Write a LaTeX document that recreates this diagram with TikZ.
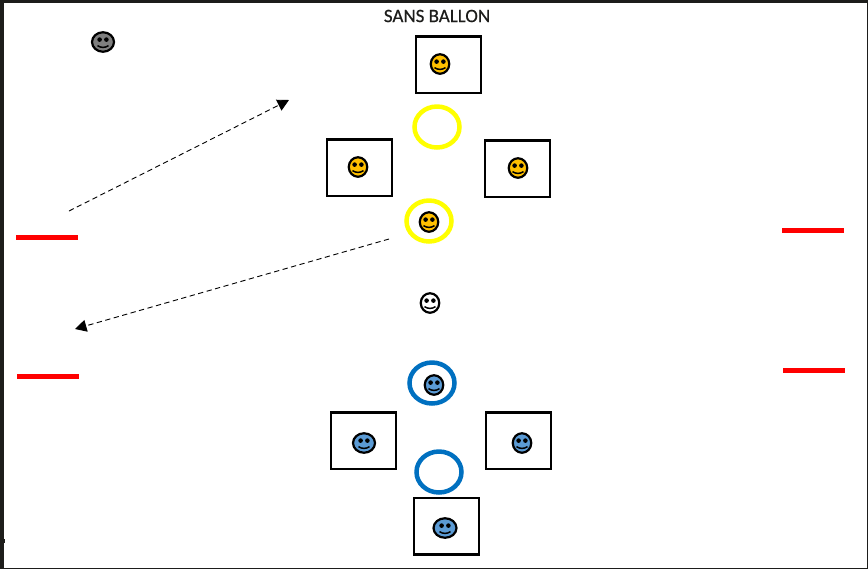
\documentclass[tikz,border=0pt]{standalone}
\usepackage{fontspec}
\setmainfont{Carlito}
\usepackage{xcolor}
\definecolor{hgold}{RGB}{255,192,0}
\definecolor{hblue}{RGB}{91,155,213}
\definecolor{hring}{RGB}{0,112,192}
\definecolor{hyellow}{RGB}{255,255,0}
\definecolor{hgrey}{RGB}{127,127,127}
\definecolor{hframe}{RGB}{29,29,27}
\usetikzlibrary{calc,arrows.meta,shapes.geometric}
\tikzset{
  playerbox/.style={draw,line width=0.05cm,rectangle,minimum width=1.3cm,minimum height=1.13cm,inner sep=0},
  ring/.style={draw=#1,line width=0.09cm,ellipse,minimum width=0.9cm,minimum height=0.82cm,inner sep=0},
  face/.style={draw,line width=0.044cm,ellipse,minimum height=0.39cm,inner sep=0},
  goal/.style={red,line width=0.1cm},
  run/.style={densely dashed,line width=0.018cm,-{Triangle[length=0.23cm,width=0.24cm]}},
}
\newcommand{\smiley}[4][0.37]{
\node[face,fill=#3,minimum width=#1 cm] (#2) at #4 {};
\fill ($(#2)+(-3.4,-2.4)$) circle (0.046cm);
\fill ($(#2)+(3.4,-2.4)$) circle (0.046cm);
\draw[line width=0.03cm] ($(#2)+(-5.5,3.6)$) .. controls ($(#2)+(-2,6)$) and ($(#2)+(2,6)$) .. ($(#2)+(5.5,3.6)$);
}
\begin{document}
\begin{tikzpicture}[x=0.02cm,y=-0.02cm]
\useasboundingbox (0,0) rectangle (868,569);
\fill[hframe] (0,0) rectangle (868,3);
\fill[hframe] (0,0) rectangle (4,569);
\fill[hframe] (0,568) rectangle (868,569);
\fill[hframe] (867,0) rectangle (868,569);
\fill[hframe] (4,539) rectangle (5,543);
\node[text=hframe] (title) at (437,16) {\addfontfeatures{FakeBold=0.5}\fontsize{10.8pt}{12pt}\selectfont SANS BALLON};
% boxes
\node[playerbox] (boxtop) at (448.7,64.6) {};
\node[playerbox] (boxleft) at (359.7,167.5) {};
\node[playerbox] (boxright) at (517.7,168.6) {};
\node[playerbox] (boxlowleft) at (363.7,440.6) {};
\node[playerbox] (boxlowright) at (518.7,440.6) {};
\node[playerbox] (boxbottom) at (446.4,526.4) {};
% rings
\node[ring=hyellow] (ringtop) at (437,127) {};
\node[ring=hyellow] (ringmid) at (429,221) {};
\node[ring=hring] (ringlow) at (432,383) {};
\node[ring=hring] (ringbottom) at (439,472) {};
% players
\smiley{facetop}{hgold}{(440,64)}
\smiley{faceleft}{hgold}{(358,167)}
\smiley{faceright}{hgold}{(518,168)}
\smiley{facemid}{hgold}{(429,222)}
\smiley{faceref}{white}{(430,303)}
\smiley{facelow}{hblue}{(434,385)}
\smiley[0.44]{facelowleft}{hblue}{(364,443)}
\smiley{facelowright}{hblue}{(522,443)}
\smiley[0.46]{facebottom}{hblue}{(445,528)}
\smiley[0.44]{facegrey}{hgrey}{(103,42)}
% goals
\coordinate (g1a) at (16,237);
\coordinate (g1b) at (78,237);
\coordinate (g2a) at (17,376);
\coordinate (g2b) at (79,376);
\coordinate (g3a) at (782,230);
\coordinate (g3b) at (844,230);
\coordinate (g4a) at (783,370);
\coordinate (g4b) at (845,370);
\draw[goal] (g1a) -- (g1b);
\draw[goal] (g2a) -- (g2b);
\draw[goal] (g3a) -- (g3b);
\draw[goal] (g4a) -- (g4b);
% runs
\coordinate (r1a) at (69,211);
\coordinate (r1b) at (289,100);
\coordinate (r2a) at (389,239);
\coordinate (r2b) at (75,329);
\draw[run] (r1a) -- (r1b);
\draw[run] (r2a) -- (r2b);
\end{tikzpicture}
\end{document}
